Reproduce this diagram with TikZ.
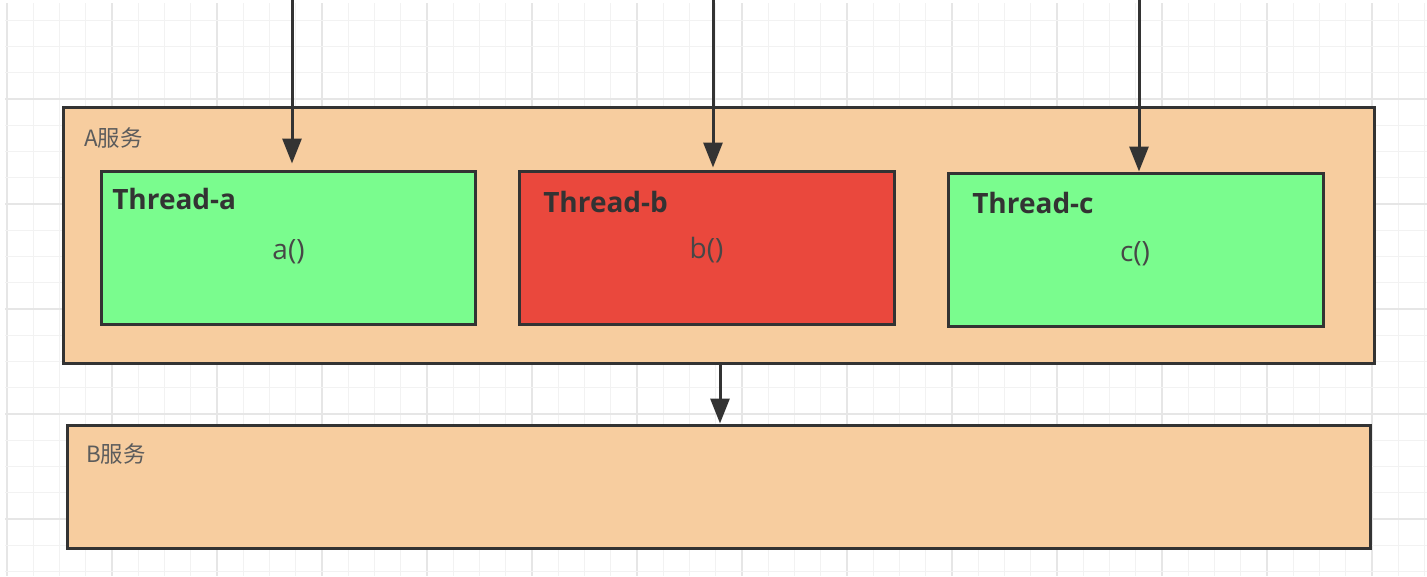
\documentclass[tikz,border=0pt]{standalone}
\usepackage{fontspec}
\setmainfont{Open Sans}
\newfontfamily\cjk{Noto Sans CJK SC}
\usetikzlibrary{arrows.meta,calc}
\definecolor{svc}{HTML}{F7CD9F}
\definecolor{thgreen}{HTML}{7AFC8E}
\definecolor{thred}{HTML}{EA483D}
\definecolor{edge}{HTML}{333333}
\definecolor{gridminor}{HTML}{F2F2F2}
\definecolor{gridmajor}{HTML}{E6E6E6}
\tikzset{
  box/.style={draw=edge, line width=2.25pt, rectangle, inner sep=0pt},
  svcbox/.style={box, fill=svc},
  thbox/.style={box},
  arr/.style={draw=edge, line width=2.25pt, -{Triangle[length=18.75pt,width=14.25pt]}},
  svclabel/.style={anchor=base west, inner sep=0pt, text=edge!80, font=\cjk\fontsize{16.8}{20}\selectfont},
  thtitle/.style={anchor=base west, inner sep=0pt, text=edge, font=\bfseries\fontsize{21}{25}\selectfont},
  thcall/.style={anchor=base, inner sep=0pt, text=edge!90, font=\fontsize{21}{25}\selectfont},
}
\begin{document}
\begin{tikzpicture}[x=0.75pt,y=-0.75pt]
\useasboundingbox (0,0) rectangle (1427,576);
\fill[white] (0,0) rectangle (1427,576);
% grid
\begin{scope}
\clip (5,3) rectangle (1427,576);
\foreach \i in {0,...,54} {
  \pgfmathsetmacro{\xx}{7+26.25*\i}
  \pgfmathtruncatemacro{\m}{mod(\i,4)}
  \ifnum\m=0 \draw[gridmajor, line width=0.9pt] (\xx,0) -- (\xx,576);
  \else \draw[gridminor, line width=0.9pt] (\xx,0) -- (\xx,576); \fi
}
\foreach \j in {0,...,22} {
  \pgfmathsetmacro{\yy}{-6+26.25*\j}
  \pgfmathtruncatemacro{\m}{mod(\j,4)}
  \ifnum\m=0 \draw[gridmajor, line width=0.9pt] (0,\yy) -- (1427,\yy);
  \else \draw[gridminor, line width=0.9pt] (0,\yy) -- (1427,\yy); \fi
}
\end{scope}
% services
\node[svcbox, minimum width=983.25pt, minimum height=192pt] (A) at (718.5,235) {};
\node[svcbox, minimum width=977.25pt, minimum height=92.25pt] (B) at (718.5,486.5) {};
\node[svclabel] (Alab) at (84,146) {A服务};
\node[svclabel] (Blab) at (86,462) {B服务};
% threads
\node[thbox, fill=thgreen, minimum width=280.5pt, minimum height=114.75pt] (tha) at (288,247.5) {};
\node[thbox, fill=thred, minimum width=281.25pt, minimum height=114.75pt] (thb) at (706.5,247.5) {};
\node[thbox, fill=thgreen, minimum width=281.25pt, minimum height=114.75pt] (thc) at (1135.5,249.5) {};
\node[thtitle] (tta) at (112,209) {Thread-a};
\node[thtitle] (ttb) at (543,212) {Thread-b};
\node[thtitle] (ttc) at (972,213) {Thread-c};
\node[thcall] (ca) at (288.5,259) {a()};
\node[thcall] (cb) at (706.5,258) {b()};
\node[thcall] (cc) at (1135,261) {c()};
% arrows
\coordinate (ina) at (292,0);
\coordinate (inb) at (713,0);
\coordinate (inc) at (1139,0);
\draw[arr, shorten >=4.5pt] (ina) -- (ina |- tha.north);
\draw[arr, shorten >=1.5pt] (inb) -- (inb |- thb.north);
\draw[arr] (inc) -- (inc |- thc.north);
\coordinate (ab) at (720,363);
\draw[arr] (ab) -- (ab |- B.north);
\end{tikzpicture}
\end{document}
